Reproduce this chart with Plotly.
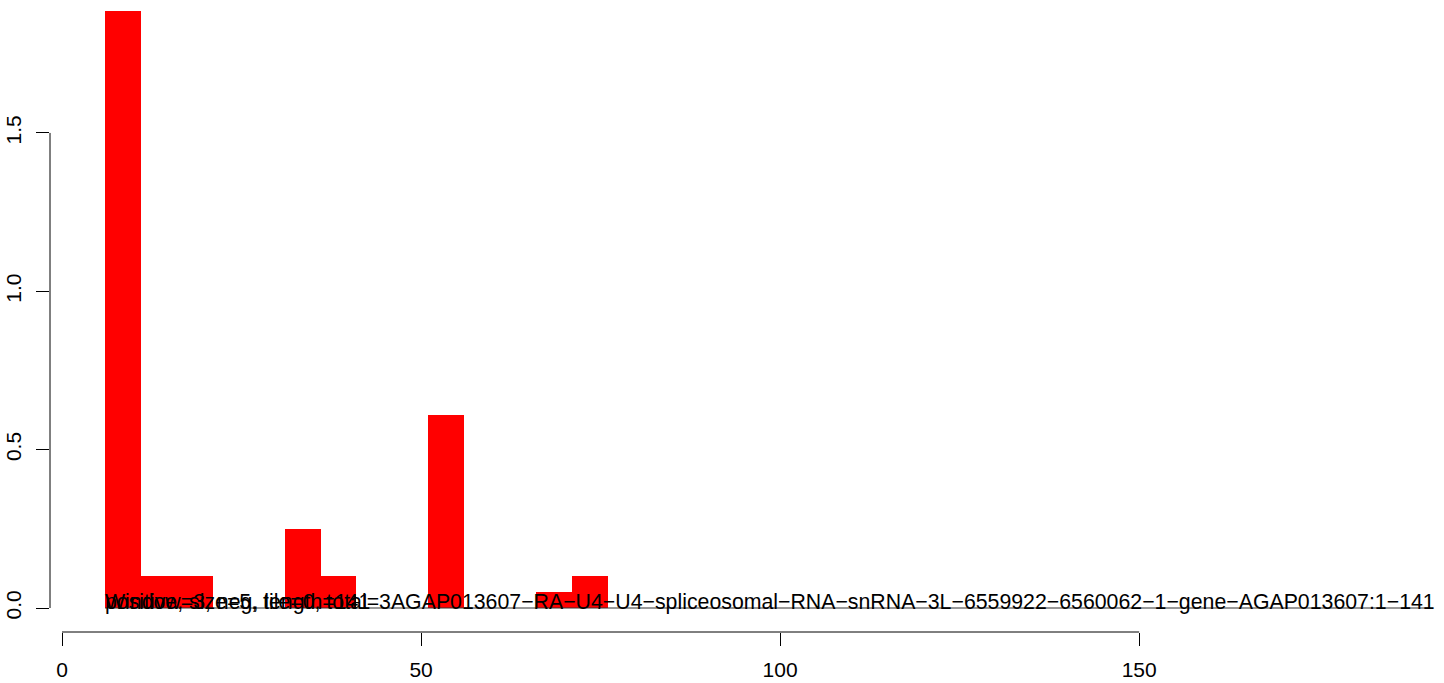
import plotly.graph_objects as go

# Data
bin_starts = [6, 11, 16, 31, 36, 51, 66, 71]
bin_width = 5
values = [1.885, 0.1, 0.1, 0.25, 0.1, 0.61, 0.05, 0.1]

x_ticks = [0, 50, 100, 150]
y_ticks = [0.0, 0.5, 1.0, 1.5]
y_tick_labels = ["0.0", "0.5", "1.0", "1.5"]

label_x = 6
label_y = 0
label_a = "Window=3, neg, length=141"
label_b = ("positive, size=5, tile=0, total=3"
           "AGAP013607\u2212RA\u2212U4\u2212U4\u2212spliceosomal\u2212RNA\u2212snRNA\u22123L"
           "\u22126559922\u22126560062\u22121\u2212gene\u2212AGAP013607:1\u2212141")
baseline_x = [6, 190.8]
baseline_y = [0, 0]

FONT = "Liberation Sans, Arial, Helvetica, sans-serif"

fig = go.Figure()
fig.add_trace(go.Bar(
    x=bin_starts, y=values, width=[bin_width] * len(bin_starts), offset=0,
    marker=dict(color="#FF0000", line=dict(width=0)),
    showlegend=False, hoverinfo="skip",
))
fig.add_trace(go.Scatter(
    x=baseline_x, y=baseline_y, mode="lines",
    line=dict(color="#333333", width=1), showlegend=False, hoverinfo="skip",
))

for txt in [label_a, label_b]:
    fig.add_annotation(
        x=label_x, y=label_y, xref="x", yref="y", text=txt, showarrow=False,
        xanchor="left", yanchor="bottom", yshift=-8, xshift=-2,
        font=dict(family=FONT, size=21.3, color="black"),
    )

# R-style axis lines only spanning tick range
fig.add_shape(type="line", xref="x", yref="paper",
              x0=min(x_ticks), x1=max(x_ticks), y0=0, y1=0,
              line=dict(color="black", width=1))
fig.add_shape(type="line", xref="paper", yref="y",
              x0=0, x1=0, y0=min(y_ticks), y1=max(y_ticks),
              line=dict(color="black", width=1))

fig.update_layout(
    width=1444, height=683,
    margin=dict(l=50, r=14, t=0, b=51, autoexpand=False),
    plot_bgcolor="white", paper_bgcolor="white",
    font=dict(family=FONT, size=21, color="black"),
    bargap=0,
    xaxis=dict(
        range=[-1.671, 190.5], tickvals=x_ticks, ticktext=[str(v) for v in x_ticks],
        ticks="outside", ticklen=13, tickwidth=1, tickcolor="black",
        showline=False, showgrid=False, zeroline=False, automargin=False,
        tickfont=dict(family=FONT, size=21, color="black"),
        ticklabelstandoff=6,
    ),
    yaxis=dict(
        range=[-0.07578, 1.9198], tickvals=y_ticks, ticktext=y_tick_labels,
        tickangle=-90,
        ticks="outside", ticklen=13, tickwidth=1, tickcolor="black",
        showline=False, showgrid=False, zeroline=False, automargin=False,
        tickfont=dict(family=FONT, size=21, color="black"),
        ticklabelstandoff=7,
    ),
)

fig.write_html(
    "out.html",
    config={"displayModeBar": False},
    post_script="document.body.style.margin='0';document.body.style.overflow='hidden';",
)
